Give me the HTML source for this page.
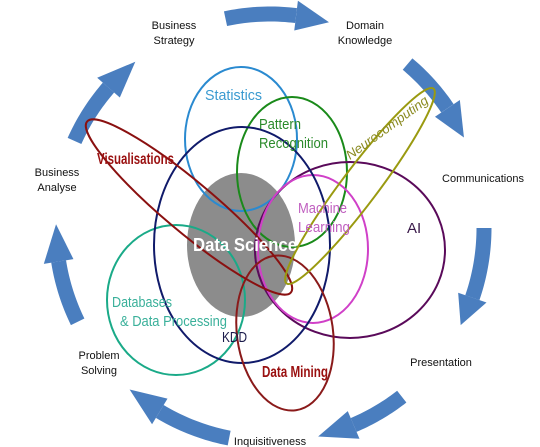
<!DOCTYPE html>
<html><head><meta charset="utf-8"><style>
html,body{margin:0;padding:0;background:#fff;}
svg{display:block;}
text{font-family:"Liberation Sans",sans-serif;}
</style></head><body>
<svg id="s" width="540" height="447" viewBox="0 0 540 447" xmlns="http://www.w3.org/2000/svg">
<g id="arrows" fill="#4a7ebf"></g>
<g fill="none" stroke-width="2">
<ellipse cx="241" cy="245" rx="54" ry="72" fill="#8c8c8c" stroke="none"/>
<ellipse cx="241" cy="139" rx="56" ry="72" stroke="#2a8ad0"/>
<ellipse cx="292" cy="172" rx="55" ry="75" stroke="#1a8a1a"/>
<ellipse cx="176" cy="300" rx="69" ry="75" stroke="#1aaa88"/>
<ellipse cx="350" cy="250" rx="95" ry="88" stroke="#5a0a5a"/>
<ellipse cx="313" cy="249" rx="55" ry="74" stroke="#d040c8"/>
<ellipse cx="242" cy="245" rx="88" ry="118" stroke="#101a6a"/>
<ellipse cx="285" cy="333" rx="48" ry="78" stroke="#8a1a1a" transform="rotate(-8 285 333)"/>
<ellipse cx="189" cy="207" rx="133" ry="25" stroke="#8a1010" transform="rotate(40 189 207)"/>
<ellipse cx="360" cy="186" rx="122" ry="18" stroke="#9a9a10" transform="rotate(-53 360 186)"/>
</g>
<g font-size="15">
<text x="205" y="100" fill="#3a9ad0" textLength="57" lengthAdjust="spacingAndGlyphs">Statistics</text>
<text x="259" y="129" fill="#2a8a2a" textLength="42" lengthAdjust="spacingAndGlyphs">Pattern</text>
<text x="259" y="148" fill="#2a8a2a" textLength="69" lengthAdjust="spacingAndGlyphs">Recognition</text>
<text x="350" y="160" fill="#8a8a20" font-size="13" font-style="italic" textLength="98" lengthAdjust="spacingAndGlyphs" transform="rotate(-36 350 160)">Neurocomputing</text>
<text x="97" y="164" fill="#9a1010" font-size="16" font-weight="bold" textLength="77" lengthAdjust="spacingAndGlyphs">Visualisations</text>
<text x="298" y="213" fill="#c060c0" textLength="49" lengthAdjust="spacingAndGlyphs">Machine</text>
<text x="298" y="232" fill="#c060c0" textLength="52" lengthAdjust="spacingAndGlyphs">Learning</text>
<text x="407" y="233" fill="#3a1a4a">AI</text>
<text x="193" y="251" fill="#fff" font-size="18" font-weight="bold" textLength="104" lengthAdjust="spacingAndGlyphs">Data Science</text>
<text x="112" y="307" fill="#3ab09a" textLength="60" lengthAdjust="spacingAndGlyphs">Databases</text>
<text x="120" y="326" fill="#3ab09a" textLength="107" lengthAdjust="spacingAndGlyphs">&amp; Data Processing</text>
<text x="222" y="342" fill="#1a1a4a" textLength="25" lengthAdjust="spacingAndGlyphs">KDD</text>
<text x="262" y="377" fill="#9a1010" font-size="16" font-weight="bold" textLength="66" lengthAdjust="spacingAndGlyphs">Data Mining</text>
</g>
<g text-anchor="middle" font-size="11" fill="#111">
<text x="174" y="29">Business</text><text x="174" y="44">Strategy</text>
<text x="365" y="29">Domain</text><text x="365" y="44">Knowledge</text>
<text x="483" y="182">Communications</text>
<text x="57" y="176">Business</text><text x="57" y="191">Analyse</text>
<text x="441" y="366">Presentation</text>
<text x="99" y="359">Problem</text><text x="99" y="374">Solving</text>
<text x="270" y="445">Inquisitiveness</text>
</g>
</svg>
<script>
(function(){
var cx=270,cy=228,r=214,g=document.getElementById('arrows');
var A=[[-102,-83,-74],[-50,-34,-25],[0,19,27],[52,67,77],[101,121,131],[154,171,181],[204,221,231]];
function p(a,rr){var t=a*Math.PI/180;return [cx+rr*Math.cos(t),cy+rr*Math.sin(t)];}
A.forEach(function(a){
 var pts=[],i,n=20,w=7.5;
 for(i=0;i<=n;i++)pts.push(p(a[0]+(a[1]-a[0])*i/n,r+w));
 for(i=n;i>=0;i--)pts.push(p(a[0]+(a[1]-a[0])*i/n,r-w));
 var b=document.createElementNS('http://www.w3.org/2000/svg','polygon');
 b.setAttribute('points',pts.map(function(q){return q.join(',')}).join(' '));
 g.appendChild(b);
 var h=[p(a[1],r+15),p(a[2],r),p(a[1],r-15)];
 var hh=document.createElementNS('http://www.w3.org/2000/svg','polygon');
 hh.setAttribute('points',h.map(function(q){return q.join(',')}).join(' '));
 g.appendChild(hh);
});
})();
</script>
</body></html>
